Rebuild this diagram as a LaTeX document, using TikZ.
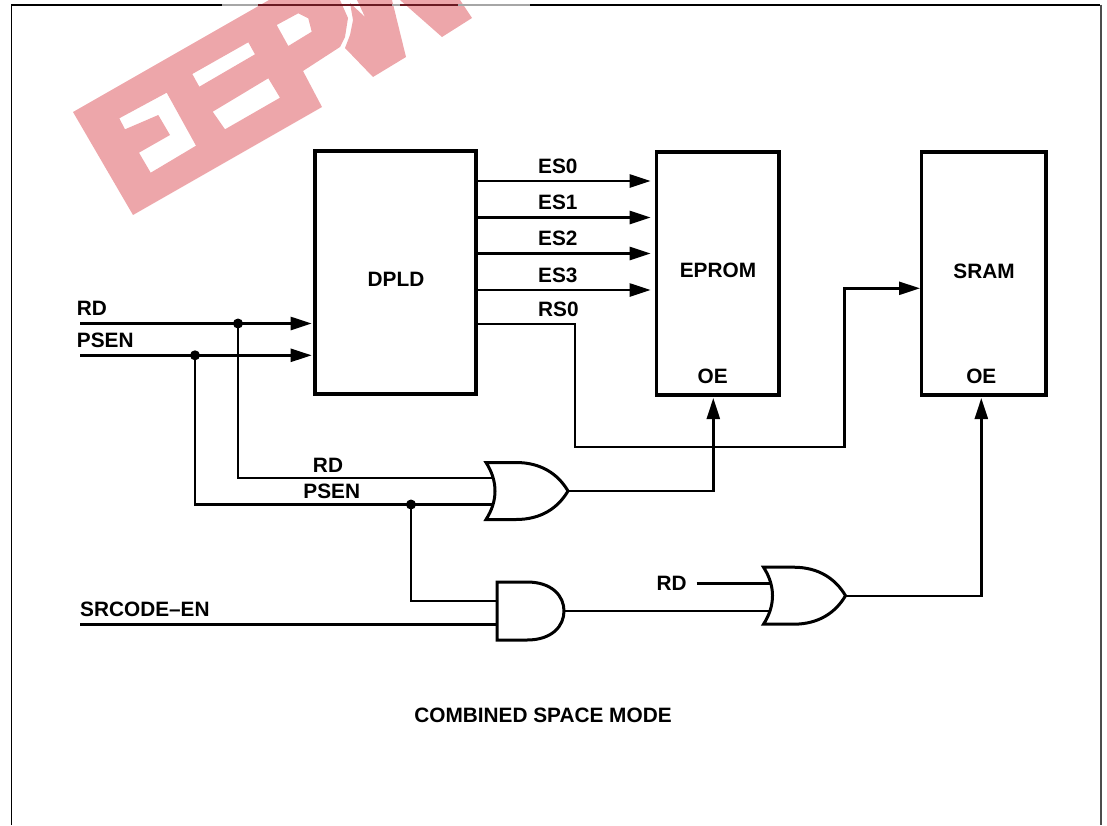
\documentclass[tikz,border=0pt]{standalone}
\usepackage{fontspec}
\setmainfont{Liberation Sans}
\usetikzlibrary{arrows.meta}
\definecolor{markpink}{HTML}{EDA6AA}
\definecolor{markline}{HTML}{6A1A22}
\tikzset{
  wire/.style={line width=2.4pt},
  gatebody/.style={draw,fill=white,line width=3pt},
  memblock/.style={draw,line width=3.5pt,inner sep=0pt,outer sep=0pt},
  lbl/.style={font=\fontsize{20.8}{24}\selectfont\bfseries,inner sep=0pt},
  joindot/.style={circle,fill=black,inner sep=0pt,minimum size=10pt},
  orgate/.pic={
    \draw [gatebody] (0,-28.5) -- (30,-28.5) .. controls (55,-28.5) and (72,-17) .. (82,0)
      .. controls (72,17) and (55,28.5) .. (30,28.5) -- (0,28.5)
      .. controls (12,10) and (12,-10) .. (0,-28.5) -- cycle;
    \coordinate (-in1) at (7,-13);
    \coordinate (-in2) at (7,13.5);
    \coordinate (-out) at (82,0);
  },
  andgate/.pic={
    \draw [gatebody] (0,-29) -- (30,-29) .. controls (55,-29) and (67,-15) .. (67,0)
      .. controls (67,15) and (55,29) .. (30,29) -- (0,29) -- cycle;
    \coordinate (-in1) at (0,-10.3);
    \coordinate (-in2) at (0,13.3);
    \coordinate (-out) at (67,0);
  }
}

\begin{document}
\begin{tikzpicture}[x=1pt,y=-1pt,>={Triangle[length=21pt,width=13pt]}]

              \useasboundingbox (0,0) rectangle (1107,825);

              % Watermark
              \begin{scope}
              \clip (0,0) rectangle (1107,825);
              \fill [markpink,even odd rule] (73,112) -- (269,0) -- (340,0) -- (348,18) -- (345,37) -- (340,47) -- (303,71) -- (322,107) -- (133,215) -- cycle
                (119.3,118.3) -- (166.7,92.7) -- (196,145.7) -- (150.7,172.7) -- (139,152.7) -- (170,135) -- (158.3,115) -- (125,129.3) -- cycle
                (192.3,74) -- (248.3,42.3) -- (255,54.3) -- (199.3,86.7) -- cycle
                (212.7,111.7) -- (268.3,78.3) -- (280,97.7) -- (225,129.3) -- cycle
                (276.7,25) -- (298.3,13.3) -- (308.3,18.3) -- (311.7,31.7) -- (288.3,46) -- cycle;
              \fill [markpink] (345,48) -- (350,35) -- (353,20) -- (350,3) -- (365,17) -- (357,0) -- (392,0) -- (406,57) -- (373,77) -- cycle;
              \fill [markpink] (400,0) -- (442,37) -- (472,18) -- (460,0) -- cycle;
              \end{scope}

              % Frame
              \draw [line width=1.5pt] (11.5,825) -- (11.5,5) -- (222,5);
              \draw [line width=1.5pt] (530,5) -- (1100,5);
              \draw [line width=2pt,black!70] (1100.5,4.5) -- (1100.5,825);
              \draw [line width=1.5pt,black!35] (222,5) -- (530,5);
              \draw [line width=1.5pt,markline] (258,5) -- (392,5);
              \draw [line width=1.5pt,markline] (400,5) -- (458,5);

              % Blocks
              \node [memblock,minimum width=161pt,minimum height=243pt] (dpld) at (395.5,272.5) {};
              \node [memblock,minimum width=122.5pt,minimum height=243pt] (eprom) at (717.75,273.5) {};
              \node [memblock,minimum width=124.3pt,minimum height=243pt] (sram) at (983.85,273.5) {};
              \node [lbl] (dpldText) at (396,279) {DPLD};
              \node [lbl] (epromText) at (718,270.7) {EPROM};
              \node [lbl] (sramText) at (984,271) {SRAM};
              \node [lbl] (epromOEText) at (712.7,376) {OE};
              \node [lbl] (sramOEText) at (981.3,376) {OE};

              % Gates
              \pic (orA) at (486,491) {orgate};
              \pic (orB) at (763.5,595.7) {orgate};
              \pic (andA) at (497,611) {andgate};

              % Select lines
              \foreach \sel/\wy/\ty in {ES0/181/166,ES1/217.5/202,ES2/253.5/238.7,ES3/290/275} {
                \draw [wire,->,shorten >=5.8pt] (dpld.east |- 0,\wy) -- (eprom.west |- 0,\wy);
                \node [lbl,anchor=west] (sel\sel) at (538,\ty) {\sel};
              }
              \node [lbl,anchor=west] (selRS0) at (538,309) {RS0};
              \coordinate (rsA) at (575,446.7);
              \coordinate (rsB) at (844.3,288.3);
              \draw [wire,->,shorten >=1.7pt] (dpld.east |- 0,324) -| (rsA) -| (rsB) -- (sram.west |- rsB);

              % Inputs
              \coordinate (rdIn) at (80,323.5);
              \coordinate (psenIn) at (80,355.3);
              \coordinate (srcIn) at (80,624.3);
              \coordinate (rdIn2) at (696.7,583.3);
              \node [joindot] (rdJoin) at (238,323.5) {};
              \node [joindot] (psenJoin) at (195,355.3) {};
              \node [joindot] (psenSplit) at (411,504.5) {};
              \draw [wire,->,shorten >=3.3pt] (rdIn) -- (dpld.west |- rdIn);
              \draw [wire,->,shorten >=3.3pt] (psenIn) -- (dpld.west |- psenIn);
              \draw [wire] (rdJoin.center) |- (orA-in1);
              \draw [wire] (psenJoin.center) |- (orA-in2);
              \draw [wire] (psenSplit.center) |- (andA-in1);
              \draw [wire] (srcIn) -- (andA-in2);
              \draw [wire] (rdIn2) -- (rdIn2 -| orB-in1);
              \draw [wire] (andA-out) -- (andA-out -| orB-in2);
              \node [lbl,anchor=west] (rdText) at (76.7,308) {RD};
              \node [lbl,anchor=west] (psenText) at (76.7,340) {PSEN};
              \node [lbl] (rdMid) at (328,465) {RD};
              \node [lbl] (psenMid) at (331.7,491.7) {PSEN};
              \node [lbl] (rdLow) at (671.7,583) {RD};
              \node [lbl,anchor=west] (srcText) at (80,609) {SRCODE–EN};

              % Enables
              \coordinate (epromOE) at (713.3,398);
              \coordinate (sramOE) at (981.3,398);
              \draw [wire,->] (orA-out) -| (epromOE);
              \draw [wire,->] (orB-out) -| (sramOE);

              % Caption
              \node [lbl] (caption) at (543,715) {COMBINED SPACE MODE};

\end{tikzpicture}
\end{document}
